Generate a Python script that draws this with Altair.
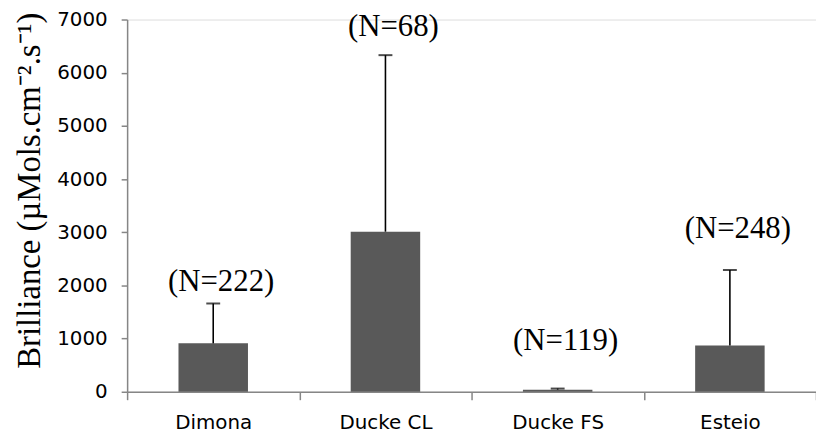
import altair as alt
import pandas as pd

sites = ["Dimona", "Ducke CL", "Ducke FS", "Esteio"]
means = [910, 3010, 40, 870]
err_top = [1660, 6330, 60, 2290]
n_labels = ["(N=222)", "(N=68)", "(N=119)", "(N=248)"]
label_y = [2070, 6860, 950, 3060]

df = pd.DataFrame({"site": sites, "mean": means, "top": err_top,
                   "lab": n_labels, "ly": label_y})

x = alt.X("site:N", sort=sites, title=None,
          scale=alt.Scale(paddingInner=0, paddingOuter=0),
          axis=alt.Axis(labelAngle=0, labelFont="DejaVu Sans", labelFontSize=20,
                        labelColor="#000", tickBand="extent", tickSize=8,
                        labelPadding=13, domainColor="#868686", tickColor="#868686",
                        domainWidth=1.5, tickWidth=1.5))

y_axis = alt.Axis(values=[0, 1000, 2000, 3000, 4000, 5000, 6000, 7000], format="d",
                  labelFont="DejaVu Sans", labelFontSize=20, labelColor="#000",
                  tickSize=6, labelPadding=14, grid=False,
                  domainColor="#868686", tickColor="#868686",
                  domainWidth=1.5, tickWidth=1.5,
                  title="Brilliance (\u00b5Mols.cm\u207b\u00b2.s\u207b\u00b9)",
                  titleFont="Liberation Serif", titleFontSize=33,
                  titleFontWeight="normal", titleColor="#000", titlePadding=10,
                  titleY=172)

y = alt.Y("mean:Q", scale=alt.Scale(domain=[0, 7000], nice=False), axis=y_axis)

base = alt.Chart(df)

bars = base.mark_bar(size=70, color="#595959").encode(x=x, y=y)
rules = base.mark_rule(color="#000", strokeWidth=1.6).encode(x=x, y="mean:Q", y2="top:Q")
caps = base.mark_tick(color="#000", size=14, thickness=2).encode(x=x, y="top:Q")
texts = base.mark_text(font="Liberation Serif", fontSize=31, color="#000",
                       baseline="middle", dx=8).encode(x=x, y="ly:Q", text="lab:N")

chart = alt.layer(bars, rules, caps, texts).properties(
    width=694, height=375,
    autosize=alt.AutoSizeParams(type="none"),
    padding={"left": 120, "top": 10, "right": 0, "bottom": 48},
).configure_view(stroke=None).configure(background="white")

chart.save("out.html", embed_options={"renderer": "svg", "actions": False})
